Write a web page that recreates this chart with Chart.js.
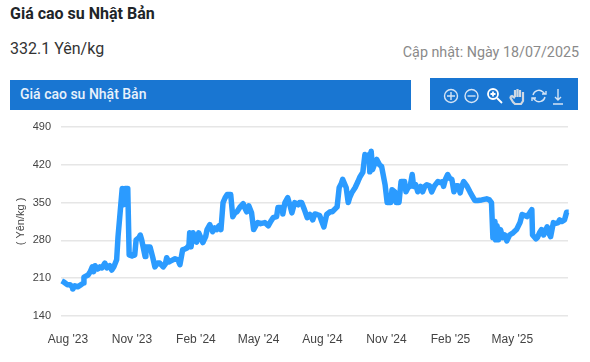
<!DOCTYPE html>
<html lang="vi"><head><meta charset="utf-8">
<script src="https://cdn.jsdelivr.net/npm/chart.js@4"></script>
<style>
html,body{margin:0;padding:0;background:#fff;width:590px;height:362px;overflow:hidden;font-family:Roboto,sans-serif}
.a{position:absolute;white-space:nowrap;line-height:1}
#title{left:10px;top:6px;font-size:16px;font-weight:700;color:#212529}
#price{left:10px;top:41px;font-size:16px;color:#333}
#upd{right:11px;top:45px;font-size:14.300px;color:#8a8a8a}
#bar{left:10px;top:80px;width:401px;height:30px;background:#1976d2}
#bartxt{left:20px;top:87px;font-size:14px;font-weight:500;color:#e8f1fb}
#tools{left:430px;top:78px;width:148px;height:32px;background:#1976d2}
#tools svg{position:absolute;left:0;top:0}
#wrap{position:absolute;left:0;top:110px;width:590px;height:252px}
</style></head><body>
<div class="a" id="title">Giá cao su Nhật Bản</div>
<div class="a" id="price">332.1 Yên/kg</div>
<div class="a" id="upd">Cập nhật: Ngày 18/07/2025</div>
<div class="a" id="bar"></div><div class="a" id="bartxt">Giá cao su Nhật Bản</div>
<div class="a" id="tools"><svg width="148" height="32" fill="none" stroke="#d5e4f5" stroke-width="1.4">
<circle cx="21" cy="18" r="6.5"/><path d="M17 18h8M21 14v8"/>
<circle cx="41.500" cy="18" r="6.500"/><path d="M37.500 18h8"/>
<circle cx="63" cy="16" r="5" stroke="#fff" stroke-width="1.800"/><path d="M60.500 16h5M63 13.500v5M67 20l5 5" stroke="#fff" stroke-width="1.800"/>
<path d="M80 19l3 5 2 2h6l2-3v-9M85 19v-7M87.500 19v-8M90 19v-7M93 19v-5M80 19l2-1 3 2" stroke="#cfd8e3" stroke-width="2.200"/>
<path d="M103 17a6 6 0 0 1 10-3l2 2M115 19a6 6 0 0 1-10 3l-2-2M112 16h4v-3M106 20h-4v3"/>
<path d="M128 11v11M125 19l3 3 3-3M123 26h10"/>
</svg></div>
<div id="wrap"><canvas id="c" width="590" height="252"></canvas></div>
<script>
const days=[
-9,-6,-1,3,6,7,10,14,19,22,
23,29,32,35,37,39,43,46,49,53,
56,60,63,66,70,72,75,78,80,82,
86,88,92,95,96,98,102,104,106,111,
112,115,118,122,125,129,132,137,140,142,
145,148,154,158,161,165,168,171,174,175,
177,180,182,185,188,191,194,198,200,204,
207,208,211,214,217,220,223,226,229,231,
234,237,240,243,247,252,254,257,260,264,
267,270,273,277,283,288,292,295,300,302,
308,309,312,316,319,322,326,331,333,336,
340,344,348,352,355,358,362,365,368,372,
377,380,387,390,393,395,400,403,405,408,
413,417,420,424,427,430,433,434,436,438,
441,444,448,451,456,459,462,464,466,470,
472,476,479,484,486,489,492,495,497,500,
503,507,510,513,516,520,523,527,532,536,
539,540,543,546,549,552,555,558,561,564,
566,569,574,578,581,585,589,595,602,606,
609,611,614,615,617,619,622,625,628,631,
635,640,645,650,653,657,660,664,667,668,
673,675,678,681,684,689,692,694,698,700,
705,707,710,714,717,720];
const prices=[
205,203,198,198,194,190,196,194,198,201,
212,216,222,231,222,233,227,231,229,238,
229,233,225,231,244,287,331,376,346,376,
376,253,251,255,253,281,285,290,281,250,
268,268,268,248,231,238,238,231,236,248,
240,242,246,244,235,263,264,266,271,294,
268,294,281,277,294,285,276,287,300,309,
300,296,303,300,307,300,350,359,365,365,
365,324,331,333,341,348,341,333,344,331,
300,307,313,311,313,307,316,322,324,341,
341,329,350,359,346,331,350,346,350,350,
337,322,328,318,329,328,326,315,305,328,
333,333,342,378,385,393,378,350,359,368,
378,389,398,406,439,435,439,407,445,411,
422,430,420,417,383,350,350,350,374,370,
350,350,389,389,370,378,380,402,380,383,
370,380,370,380,383,381,370,381,389,387,
389,380,394,402,395,393,370,381,381,368,
379,389,380,370,363,354,354,355,357,355,
350,285,315,281,307,281,300,285,290,279,
290,294,300,313,328,326,324,331,337,290,
283,285,294,300,290,305,292,287,313,311,
313,318,315,318,332,332];
const tickDays=[0,92,184,274,366,458,550,639];
const tickLabels=["Aug '23","Nov '23","Feb '24","May '24","Aug '24","Nov '24","Feb '25","May '25"];
const pts=days.map((d,i)=>({x:d,y:prices[i]}));
new Chart(document.getElementById('c'),{
 type:'line',
 data:{datasets:[{data:pts,borderColor:'#2b9bff',borderWidth:5.5,pointRadius:0,tension:0,fill:false,clip:false,borderJoinStyle:'round'}]},
 options:{responsive:false,animation:false,
  layout:{padding:{top:17,right:22,bottom:0,left:0}},
  plugins:{legend:{display:false},tooltip:{enabled:false}},
  scales:{
   x:{type:'linear',min:-10,max:719,
      afterBuildTicks:a=>{a.ticks=tickDays.map(v=>({value:v}));},
      afterFit:a=>{a.height=46;},
      grid:{display:false},border:{display:false},
      ticks:{padding:8,maxRotation:0,autoSkip:false,color:'#444',font:{family:'"Liberation Sans",Arial,sans-serif',size:12},
        callback:v=>tickLabels[tickDays.indexOf(v)]||''}},
   y:{min:140,max:490,
      afterFit:a=>{a.width=61;},
      grid:{color:'#e6e6e6',lineWidth:1.5,drawTicks:false},border:{display:false},
      ticks:{stepSize:70,padding:10,color:'#444',font:{family:'"Liberation Sans",Arial,sans-serif',size:11}},
      title:{display:true,text:'( Yên/kg )',color:'#444',padding:{top:14,bottom:0},font:{family:'"Liberation Sans",Arial,sans-serif',size:11}}}
  }}
});
</script>
</body></html>
